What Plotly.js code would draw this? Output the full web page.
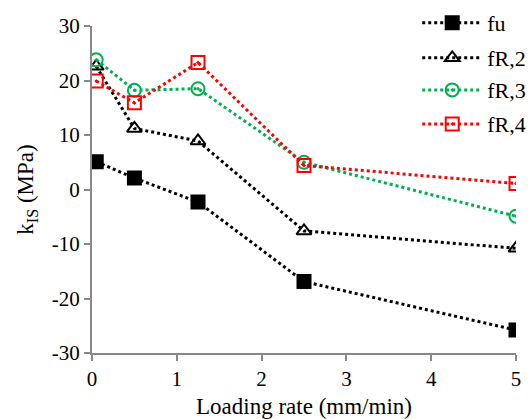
<!DOCTYPE html>
<html><head><meta charset="utf-8">
<script src="https://cdn.plot.ly/plotly-3.0.1.min.js"></script>
<style>
html,body{margin:0;padding:0;background:#fff}
#chart{width:532px;height:419px}
#chart svg text{font-family:'Liberation Serif','Times New Roman',serif !important}
</style>
</head><body><div id="chart"></div>
<script>
const loadingRate = [0.05, 0.5, 1.25, 2.5, 5];
const fu  = [5.1, 2.1, -2.3, -16.9, -25.8];
const fR2 = [22.6, 11.2, 8.9, -7.6, -10.8];
const fR3 = [23.8, 18.2, 18.5, 5.0, -4.9];
const fR4 = [19.9, 15.9, 23.3, 4.4, 1.1];
const names = ['fu', 'fR,2', 'fR,3', 'fR,4'];
const yTicks = [-30, -20, -10, 0, 10, 20, 30];
const xTicks = [0, 1, 2, 3, 4, 5];

const FAM = 'Liberation Serif';
const F = (size) => ({family: FAM, color: '#000000', size: size});
const mk = (y, name, color, symbol, size, lg) => ({
  x: loadingRate, y: y, name: name, type: 'scatter', mode: 'lines+markers', legend: lg,
  line: {color: color, width: 3, dash: 'dot'},
  marker: {symbol: symbol, size: size, color: color, line: {color: color, width: 2}}
});
const data = [
  mk(fu, names[0], '#000000', 'square', 13, 'legend'),
  mk(fR2, names[1], '#000000', 'triangle-up-open', 13, 'legend2'),
  mk(fR3, names[2], '#00B050', 'circle-open-dot', 13, 'legend3'),
  mk(fR4, names[3], '#FF0000', 'square-open-dot', 13, 'legend4')
];
const lgBase = (y) => ({x: 0.767, xanchor: 'left', y: y, yanchor: 'middle', bgcolor: 'rgba(0,0,0,0)',
  font: F(22), itemwidth: 60});
const layout = {
  width: 532, height: 419,
  margin: {l: 92, r: 16, t: 26, b: 66, autoexpand: false},
  paper_bgcolor: '#fff', plot_bgcolor: '#fff',
  font: F(21),
  showlegend: true,
  legend: lgBase(1.009), legend2: lgBase(0.902), legend3: lgBase(0.804), legend4: lgBase(0.700),
  xaxis: {range: [0, 5], tickvals: xTicks, ticktext: xTicks.map(String), showgrid: false, zeroline: false,
          showline: true, linecolor: '#898989', linewidth: 2, ticks: 'outside', ticklen: 6, tickcolor: '#898989', tickwidth: 2,
          tickfont: F(21), automargin: false,
          title: {text: 'Loading rate (mm/min)', font: F(23), standoff: 12}},
  yaxis: {range: [-30, 30], tickvals: yTicks, ticktext: yTicks.map(String), showgrid: false, zeroline: false,
          showline: true, linecolor: '#898989', linewidth: 2, ticks: 'outside', ticklen: 6, tickcolor: '#898989', tickwidth: 2,
          tickfont: F(21), automargin: false,
          title: {text: 'k<sub>IS</sub> (MPa)', font: F(23), standoff: 12}}
};
Plotly.newPlot('chart', data, layout, {displayModeBar: false, staticPlot: true});
</script></body></html>
